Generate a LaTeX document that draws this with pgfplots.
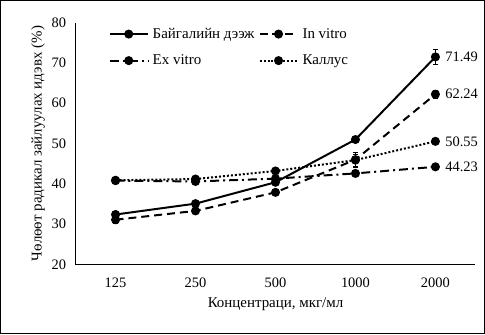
\documentclass[border=0pt]{standalone}
\usepackage{fontspec}
\setmainfont{Liberation Serif}
\usepackage{pgfplots}
\pgfplotsset{compat=1.18}
\begin{document}
\begin{tikzpicture}[x=1bp,y=1bp]
\begin{axis}[
  scale only axis, width=400bp, height=242bp,
  xmin=-0.5, xmax=4.5, ymin=20, ymax=80,
  axis lines=left, axis line style={-, line width=1pt},
  xtick={0,1,2,3,4}, xticklabels={125,250,500,1000,2000},
  ytick={20,30,...,80},
  major tick length=0pt,
  /pgf/number format/assume math mode=true,
  tick label style={font=\fontsize{14.5}{16}\selectfont},
  xticklabel style={yshift=-10bp},
  yticklabel style={xshift=-6bp},
  xlabel={Концентраци, мкг/мл},
  ylabel={Чөлөөт радикал зайлуулах идэвх (\%)},
  label style={font=\fontsize{15}{17}\selectfont},
  xlabel style={yshift=-3bp},
  ylabel style={yshift=0bp},
  clip=false,
  legend style={draw=none, fill=none, at={(0.08,0.99)}, anchor=north west,
    font=\fontsize{15}{17}\selectfont, column sep=3bp, row sep=11bp, inner sep=1bp,
    nodes={inner xsep=1bp}},
  legend columns=2,
  legend cell align=left,
  legend image code/.code={\draw[mark repeat=2,mark phase=2] plot coordinates {(0bp,0bp) (19bp,0bp) (38bp,0bp)};},
  every axis plot/.append style={line width=2pt, mark=*, mark size=3.5pt, mark options={solid}},
  error bars/error bar style={line width=0.8pt, solid},
  error bars/error mark options={rotate=90, mark size=2.5pt, line width=0.8pt},
]
\addplot[black, solid, error bars/.cd, y dir=both, y explicit] coordinates {
  (0,32.4) +- (0,0.6) (1,35.1) +- (0,0.6) (2,40.4) +- (0,0.8) (3,51.0) +- (0,0.8) (4,71.49) +- (0,1.8)};
\addlegendentry{Байгалийн дээж}
\addplot[black, dash pattern=on 8pt off 5pt, error bars/.cd, y dir=both, y explicit] coordinates {
  (0,31.1) +- (0,0.8) (1,33.3) +- (0,0.6) (2,37.9) +- (0,0.8) (3,46.0) +- (0,1.8) (4,62.24) +- (0,1.0)};
\addlegendentry{In vitro}
\addplot[black, dash pattern=on 9pt off 4pt on 2pt off 4pt, error bars/.cd, y dir=both, y explicit] coordinates {
  (0,40.8) +- (0,0.5) (1,40.6) +- (0,0.8) (2,41.3) +- (0,0.8) (3,42.6) +- (0,0.5) (4,44.23) +- (0,0.5)};
\addlegendentry{Ex vitro}
\addplot[black, dash pattern=on 2pt off 2pt, error bars/.cd, y dir=both, y explicit] coordinates {
  (0,40.9) +- (0,0.5) (1,41.2) +- (0,0.6) (2,43.2) +- (0,0.5) (3,45.9) +- (0,1.5) (4,50.55) +- (0,0.5)};
\addlegendentry{Каллус}
\node[anchor=west, font=\fontsize{14.5}{16}\selectfont] at (axis cs:4.08,71.49) {71.49};
\node[anchor=west, font=\fontsize{14.5}{16}\selectfont] at (axis cs:4.08,62.24) {62.24};
\node[anchor=west, font=\fontsize{14.5}{16}\selectfont] at (axis cs:4.08,50.55) {50.55};
\node[anchor=west, font=\fontsize{14.5}{16}\selectfont] at (axis cs:4.08,44.23) {44.23};
\draw[line width=1.2pt] (axis description cs:-0.1875,-0.285) rectangle (axis description cs:1.0225,1.091);
\end{axis}
\end{tikzpicture}
\end{document}
